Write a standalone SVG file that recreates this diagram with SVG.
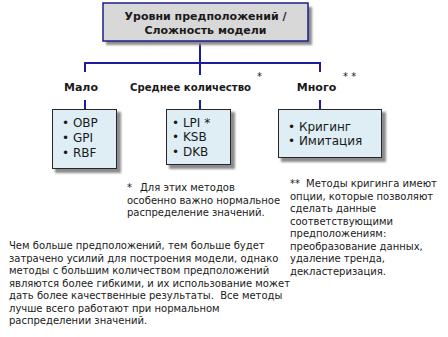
<svg xmlns="http://www.w3.org/2000/svg" width="448" height="337" viewBox="0 0 448 337">
<defs>
<filter id="sh" x="-10%" y="-10%" width="130%" height="140%">
<feGaussianBlur stdDeviation="1.3"/>
</filter>
<style>
.shadow{fill:#8c8c8c;filter:url(#sh);}
.top{fill:#d8d8d8;stroke:#1c1c8c;stroke-width:1.5;}
.box{fill:#deeef4;stroke:#262626;stroke-width:1;}
.hdr{font-family:"DejaVu Sans",sans-serif;font-weight:bold;font-size:11px;fill:#1a1a1a;}
.lbl{font-family:"DejaVu Sans",sans-serif;font-weight:bold;font-size:11px;fill:#1a1a1a;}
.sup{font-family:"DejaVu Sans",sans-serif;font-size:10px;fill:#1a1a1a;}
.item{font-family:"DejaVu Sans",sans-serif;font-size:12px;fill:#1a1a1a;}
.note{font-family:"DejaVu Sans",sans-serif;font-size:10px;fill:#1a1a1a;}
.conn{fill:none;stroke:#1c1ca0;stroke-width:2;}
</style>
</defs>
<rect width="448" height="337" fill="#ffffff"/>

<g id="connectors">
<path class="conn" d="M200 41 V75"/>
<path class="conn" d="M85 72 V63 H320 V72"/>
<path class="conn" d="M85 100 V109"/>
<path class="conn" d="M200 100 V109"/>
<path class="conn" d="M320 100 V109"/>
</g>

<g id="root">
<rect class="shadow" x="106" y="7" width="206" height="38"/>
<rect class="top" x="103" y="3" width="205" height="38"/>
<text class="hdr" x="205.5" y="20" text-anchor="middle">Уровни предположений /</text>
<text class="hdr" x="205.5" y="34" text-anchor="middle">Сложность модели</text>
</g>

<g id="label-few">
<text class="lbl" x="81" y="91" text-anchor="middle">Мало</text>
</g>
<g id="label-medium">
<text class="lbl" x="130" y="91" textLength="121" lengthAdjust="spacingAndGlyphs">Среднее количество</text>
<text class="sup" x="257" y="80">*</text>
</g>
<g id="label-many">
<text class="lbl" x="316.5" y="91" text-anchor="middle">Много</text>
<text class="sup" x="343" y="80">* *</text>
</g>

<g id="box-few">
<rect class="shadow" x="55" y="112" width="66" height="61"/>
<rect class="box" x="52.5" y="109.5" width="64" height="59"/>
<text class="item" x="62" y="127">• OBP</text>
<text class="item" x="62" y="142">• GPI</text>
<text class="item" x="62" y="157">• RBF</text>
</g>

<g id="box-medium">
<rect class="shadow" x="169" y="112" width="66" height="57"/>
<rect class="box" x="166.5" y="109.5" width="64" height="55"/>
<text class="item" x="172" y="127">• LPI *</text>
<text class="item" x="172" y="141">• KSB</text>
<text class="item" x="172" y="156">• DKB</text>
</g>

<g id="box-many">
<rect class="shadow" x="281" y="112" width="105" height="50"/>
<rect class="box" x="278.5" y="109.5" width="103" height="48"/>
<text class="item" x="288" y="131">• Кригинг</text>
<text class="item" x="288" y="145">• Имитация</text>
</g>

<g id="note1">
<text class="note" x="127" y="191">*</text>
<text class="note" x="140" y="191">Для этих методов</text>
<text class="note" x="127" y="203.5">особенно важно нормальное</text>
<text class="note" x="127" y="216">распределение значений.</text>
</g>

<g id="note2">
<text class="note" x="290" y="187">**</text>
<text class="note" x="306" y="187">Методы кригинга имеют</text>
<text class="note" x="290" y="199.5">опции, которые позволяют</text>
<text class="note" x="290" y="212">сделать данные</text>
<text class="note" x="290" y="224.5">соответствующими</text>
<text class="note" x="290" y="237">предположениям:</text>
<text class="note" x="290" y="249.5">преобразование данных,</text>
<text class="note" x="290" y="262">удаление тренда,</text>
<text class="note" x="290" y="274.5">декластеризация.</text>
</g>

<g id="note-main">
<text class="note" x="9" y="249">Чем больше предположений, тем больше будет</text>
<text class="note" x="9" y="261.5">затрачено усилий для построения модели, однако</text>
<text class="note" x="9" y="274">методы с большим количеством предположений</text>
<text class="note" x="9" y="286.5">являются более гибкими, и их использование может</text>
<text class="note" x="9" y="299" xml:space="preserve">дать более качественные результаты.  Все методы</text>
<text class="note" x="9" y="311.5">лучше всего работают при нормальном</text>
<text class="note" x="9" y="324">распределении значений.</text>
</g>
</svg>
